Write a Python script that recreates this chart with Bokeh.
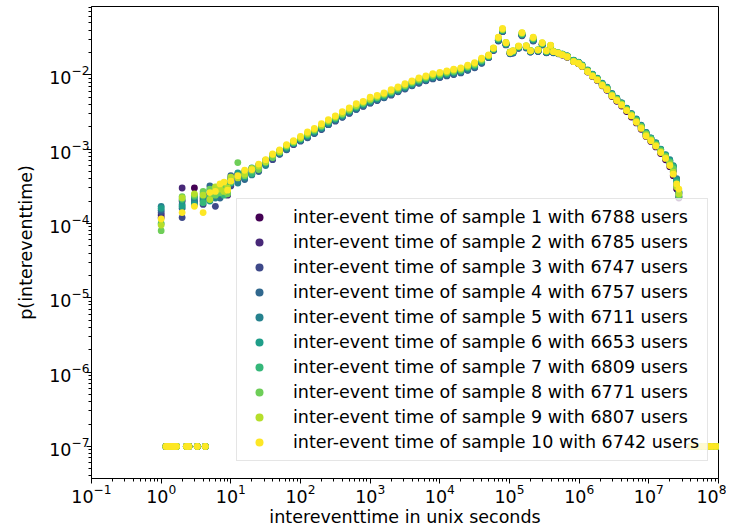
from bokeh.plotting import figure
from bokeh.models import ColumnDataSource, Legend, LegendItem, FixedTicker
from bokeh.embed import file_html
from bokeh.resources import INLINE

# ---------------- data ----------------
x_grid = [1, 2, 3, 4, 5, 6, 7, 8, 9,
          10, 12.6, 15.8, 20, 25.1, 31.6, 39.8, 50.1, 63.1, 79.4, 100,
          126, 158, 200, 251, 316, 398, 501, 631, 794, 1000,
          1260, 1580, 2000, 2510, 3160, 3980, 5010, 6310, 7940, 10000,
          12600, 15800, 20000, 25100, 31600, 39800,
          50100, 58900, 69200, 79400, 89100, 102000, 112000, 135000, 151000, 174000,
          200000, 219000, 257000, 295000, 339000, 389000, 427000, 501000, 575000, 676000,
          832000, 977000, 1.10e6, 1.32e6, 1.55e6, 1.82e6, 2.14e6, 2.51e6, 2.95e6, 3.47e6,
          4.07e6, 4.79e6, 5.62e6, 6.61e6, 7.76e6, 9.12e6, 1.07e7, 1.26e7, 1.48e7, 1.74e7,
          2.00e7, 2.24e7, 2.51e7, 2.70e7]

# points drawn at the floor value 1e-7
x_floor = [1.17, 1.25, 1.33, 1.42, 1.5, 1.58, 1.66, 2.3, 2.5, 3.3, 4.3,
           4.0e7, 4.6e7, 5.3e7, 6.1e7, 7.0e7, 8.0e7, 9.2e7, 1.05e8]
floor_value = 1e-7

s1 = [1.3e-4, 2.0e-4, 3.0e-4, 2.0e-4, 2.4e-4, 2.5e-4, 3.0e-4, 2.7e-4, 2.9e-4,
      3.4e-4, 4.6e-4, 4.1e-4, 5.4e-4, 5.2e-4, 6.9e-4, 7.4e-4, 9.5e-4, 1.0e-3, 1.25e-3, 1.3e-3,
      1.47e-3, 1.66e-3, 1.95e-3, 2.15e-3, 2.47e-3, 2.8e-3, 3.1e-3, 3.5e-3, 3.95e-3, 4.25e-3,
      4.7e-3, 5.0e-3, 5.55e-3, 6.05e-3, 6.7e-3, 7.3e-3, 8.0e-3, 8.5e-3, 9.15e-3, 9.5e-3,
      1.0e-2, 1.04e-2, 1.09e-2, 1.19e-2, 1.28e-2, 1.47e-2,
      1.74e-2, 2.16e-2, 2.92e-2, 3.85e-2, 2.56e-2, 1.95e-2, 1.99e-2, 2.31e-2, 3.4e-2, 2.33e-2,
      2.05e-2, 2.9e-2, 2.09e-2, 2.55e-2, 2.0e-2, 2.38e-2, 2.0e-2, 1.93e-2, 1.84e-2, 1.72e-2,
      1.5e-2, 1.41e-2, 1.29e-2, 1.09e-2, 9.5e-3, 8.4e-3, 7.1e-3, 6.2e-3, 5.1e-3, 4.4e-3,
      3.8e-3, 3.2e-3, 2.7e-3, 2.25e-3, 1.85e-3, 1.48e-3, 1.27e-3, 1.07e-3, 8.7e-4, 7.2e-4,
      5.8e-4, 4.4e-4, 2.9e-4, 2.2e-4]

s2 = [1.2e-4, 3.0e-4, 2.0e-4, 2.2e-4, 2.2e-4, 2.8e-4, 2.6e-4, 3.2e-4, 2.4e-4,
      4.1e-4, 3.8e-4, 4.9e-4, 4.6e-4, 6.1e-4, 6.2e-4, 8.3e-4, 8.6e-4, 1.1e-3, 1.15e-3, 1.4e-3,
      1.46e-3, 1.68e-3, 1.86e-3, 2.18e-3, 2.42e-3, 2.75e-3, 3.08e-3, 3.5e-3, 3.83e-3, 4.25e-3,
      4.58e-3, 5.0e-3, 5.42e-3, 6.05e-3, 6.55e-3, 7.25e-3, 7.88e-3, 8.48e-3, 9.0e-3, 9.42e-3,
      9.85e-3, 1.03e-2, 1.08e-2, 1.18e-2, 1.27e-2, 1.46e-2,
      1.72e-2, 2.14e-2, 2.9e-2, 3.82e-2, 2.54e-2, 1.93e-2, 1.97e-2, 2.29e-2, 3.38e-2, 2.31e-2,
      2.03e-2, 2.88e-2, 2.07e-2, 2.53e-2, 1.99e-2, 2.37e-2, 1.99e-2, 1.92e-2, 1.85e-2, 1.74e-2,
      1.52e-2, 1.43e-2, 1.31e-2, 1.11e-2, 9.7e-3, 8.6e-3, 7.3e-3, 6.3e-3, 5.25e-3, 4.55e-3,
      3.95e-3, 3.3e-3, 2.8e-3, 2.35e-3, 1.92e-3, 1.55e-3, 1.3e-3, 1.1e-3, 9.0e-4, 7.4e-4,
      6.2e-4, 5.0e-4, 3.2e-4, 2.3e-4]

s3 = [1.4e-4, 1.2e-4, 1.9e-4, 1.8e-4, 2.5e-4, 1.7e-4, 2.4e-4, 2.6e-4, 3.0e-4,
      3.2e-4, 4.0e-4, 4.3e-4, 4.8e-4, 5.4e-4, 6.4e-4, 7.2e-4, 8.8e-4, 9.8e-4, 1.15e-3, 1.28e-3,
      1.42e-3, 1.62e-3, 1.83e-3, 2.13e-3, 2.38e-3, 2.68e-3, 3.02e-3, 3.42e-3, 3.75e-3, 4.15e-3,
      4.5e-3, 4.9e-3, 5.32e-3, 5.9e-3, 6.42e-3, 7.1e-3, 7.7e-3, 8.3e-3, 8.8e-3, 9.2e-3,
      9.65e-3, 1.01e-2, 1.06e-2, 1.15e-2, 1.24e-2, 1.43e-2,
      1.7e-2, 2.12e-2, 2.85e-2, 3.8e-2, 2.52e-2, 1.92e-2, 1.96e-2, 2.28e-2, 3.35e-2, 2.3e-2,
      2.02e-2, 2.85e-2, 2.06e-2, 2.52e-2, 1.98e-2, 2.36e-2, 1.98e-2, 1.93e-2, 1.86e-2, 1.76e-2,
      1.54e-2, 1.45e-2, 1.33e-2, 1.13e-2, 9.9e-3, 8.7e-3, 7.4e-3, 6.5e-3, 5.4e-3, 4.7e-3,
      4.05e-3, 3.4e-3, 2.9e-3, 2.4e-3, 2.0e-3, 1.6e-3, 1.35e-3, 1.15e-3, 9.4e-4, 7.8e-4,
      6.5e-4, 5.2e-4, 3.5e-4, 2.5e-4]

s4 = [1.5e-4, 1.6e-4, 2.2e-4, 2.5e-4, 3.2e-4, 2.9e-4, 2.2e-4, 3.0e-4, 2.5e-4,
      4.4e-4, 4.5e-4, 3.9e-4, 5.2e-4, 5.0e-4, 7.0e-4, 7.6e-4, 8.5e-4, 1.05e-3, 1.18e-3, 1.3e-3,
      1.44e-3, 1.63e-3, 1.87e-3, 2.13e-3, 2.43e-3, 2.7e-3, 3.08e-3, 3.43e-3, 3.82e-3, 4.18e-3,
      4.57e-3, 4.92e-3, 5.4e-3, 5.94e-3, 6.52e-3, 7.15e-3, 7.82e-3, 8.36e-3, 8.94e-3, 9.3e-3,
      9.78e-3, 1.02e-2, 1.07e-2, 1.16e-2, 1.26e-2, 1.44e-2,
      1.72e-2, 2.15e-2, 2.9e-2, 3.85e-2, 2.55e-2, 1.94e-2, 1.98e-2, 2.3e-2, 3.4e-2, 2.33e-2,
      2.04e-2, 2.9e-2, 2.08e-2, 2.55e-2, 2.0e-2, 2.38e-2, 2.0e-2, 1.95e-2, 1.88e-2, 1.78e-2,
      1.56e-2, 1.47e-2, 1.35e-2, 1.15e-2, 1.01e-2, 8.9e-3, 7.6e-3, 6.7e-3, 5.55e-3, 4.8e-3,
      4.2e-3, 3.5e-3, 3.0e-3, 2.5e-3, 2.05e-3, 1.66e-3, 1.4e-3, 1.2e-3, 9.8e-4, 8.2e-4,
      7.0e-4, 5.8e-4, 3.9e-4, 2.6e-4]

s5 = [1.7e-4, 1.8e-4, 2.0e-4, 2.1e-4, 2.8e-4, 2.2e-4, 3.3e-4, 2.6e-4, 3.2e-4,
      3.6e-4, 3.5e-4, 4.8e-4, 4.5e-4, 6.0e-4, 6.0e-4, 8.0e-4, 9.2e-4, 1.0e-3, 1.2e-3, 1.33e-3,
      1.49e-3, 1.69e-3, 1.91e-3, 2.22e-3, 2.49e-3, 2.79e-3, 3.16e-3, 3.56e-3, 3.93e-3, 4.33e-3,
      4.69e-3, 5.1e-3, 5.56e-3, 6.15e-3, 6.71e-3, 7.4e-3, 8.05e-3, 8.65e-3, 9.2e-3, 9.6e-3,
      1.01e-2, 1.06e-2, 1.1e-2, 1.2e-2, 1.3e-2, 1.49e-2,
      1.74e-2, 2.18e-2, 2.95e-2, 3.9e-2, 2.58e-2, 1.96e-2, 2.0e-2, 2.32e-2, 3.45e-2, 2.35e-2,
      2.06e-2, 2.95e-2, 2.1e-2, 2.57e-2, 2.02e-2, 2.4e-2, 2.02e-2, 1.96e-2, 1.9e-2, 1.8e-2,
      1.57e-2, 1.48e-2, 1.36e-2, 1.16e-2, 1.02e-2, 9.0e-3, 7.7e-3, 6.8e-3, 5.6e-3, 4.85e-3,
      4.2e-3, 3.55e-3, 3.0e-3, 2.55e-3, 2.1e-3, 1.68e-3, 1.42e-3, 1.22e-3, 1.0e-3, 8.4e-4,
      7.2e-4, 6.0e-4, 4.0e-4, 2.7e-4]

s6 = [1.6e-4, 1.7e-4, 1.8e-4, 2.3e-4, 2.0e-4, 3.0e-4, 2.5e-4, 2.8e-4, 2.7e-4,
      4.0e-4, 4.8e-4, 4.2e-4, 5.6e-4, 5.5e-4, 6.8e-4, 7.9e-4, 8.9e-4, 1.08e-3, 1.2e-3, 1.36e-3,
      1.52e-3, 1.72e-3, 1.97e-3, 2.25e-3, 2.56e-3, 2.83e-3, 3.24e-3, 3.62e-3, 4.03e-3, 4.4e-3,
      4.81e-3, 5.18e-3, 5.69e-3, 6.26e-3, 6.87e-3, 7.54e-3, 8.24e-3, 8.81e-3, 9.42e-3, 9.8e-3,
      1.03e-2, 1.08e-2, 1.13e-2, 1.23e-2, 1.32e-2, 1.52e-2,
      1.76e-2, 2.2e-2, 3.0e-2, 3.95e-2, 2.6e-2, 1.98e-2, 2.02e-2, 2.35e-2, 3.5e-2, 2.38e-2,
      2.08e-2, 3.0e-2, 2.12e-2, 2.6e-2, 2.04e-2, 2.42e-2, 2.03e-2, 1.97e-2, 1.89e-2, 1.79e-2,
      1.56e-2, 1.47e-2, 1.35e-2, 1.15e-2, 1.01e-2, 8.9e-3, 7.6e-3, 6.7e-3, 5.5e-3, 4.8e-3,
      4.15e-3, 3.5e-3, 2.95e-3, 2.5e-3, 2.05e-3, 1.65e-3, 1.4e-3, 1.2e-3, 9.9e-4, 8.3e-4,
      7.0e-4, 5.9e-4, 3.8e-4, 2.6e-4]

s7 = [1.0e-4, 2.1e-4, 2.3e-4, 1.9e-4, 2.3e-4, 2.6e-4, 2.8e-4, 2.4e-4, 3.3e-4,
      3.5e-4, 4.3e-4, 5.0e-4, 4.7e-4, 5.8e-4, 6.5e-4, 8.1e-4, 9.4e-4, 1.06e-3, 1.22e-3, 1.37e-3,
      1.55e-3, 1.76e-3, 2.0e-3, 2.31e-3, 2.6e-3, 2.9e-3, 3.3e-3, 3.7e-3, 4.1e-3, 4.5e-3,
      4.9e-3, 5.3e-3, 5.8e-3, 6.4e-3, 7.0e-3, 7.7e-3, 8.4e-3, 9.0e-3, 9.6e-3, 1.0e-2,
      1.05e-2, 1.1e-2, 1.15e-2, 1.25e-2, 1.35e-2, 1.55e-2,
      1.78e-2, 2.22e-2, 3.05e-2, 4.0e-2, 2.65e-2, 2.0e-2, 2.05e-2, 2.38e-2, 3.55e-2, 2.4e-2,
      2.1e-2, 3.05e-2, 2.15e-2, 2.62e-2, 2.06e-2, 2.44e-2, 2.05e-2, 1.98e-2, 1.9e-2, 1.78e-2,
      1.55e-2, 1.46e-2, 1.34e-2, 1.14e-2, 1.0e-2, 8.8e-3, 7.5e-3, 6.6e-3, 5.4e-3, 4.7e-3,
      4.1e-3, 3.45e-3, 2.9e-3, 2.45e-3, 2.0e-3, 1.62e-3, 1.38e-3, 1.17e-3, 9.7e-4, 8.1e-4,
      6.8e-4, 5.7e-4, 3.6e-4, 2.3e-4]

s8 = [8.0e-5, 2.3e-4, 2.4e-4, 2.7e-4, 2.9e-4, 2.4e-4, 2.6e-4, 3.1e-4, 2.5e-4,
      3.9e-4, 6.6e-4, 4.4e-4, 5.1e-4, 5.3e-4, 7.1e-4, 7.7e-4, 9.1e-4, 1.1e-3, 1.24e-3, 1.4e-3,
      1.58e-3, 1.8e-3, 2.04e-3, 2.36e-3, 2.64e-3, 2.97e-3, 3.36e-3, 3.78e-3, 4.17e-3, 4.6e-3,
      4.99e-3, 5.42e-3, 5.91e-3, 6.54e-3, 7.13e-3, 7.86e-3, 8.56e-3, 9.19e-3, 9.78e-3, 1.02e-2,
      1.07e-2, 1.12e-2, 1.17e-2, 1.28e-2, 1.38e-2, 1.58e-2,
      1.8e-2, 2.25e-2, 3.1e-2, 4.05e-2, 2.68e-2, 2.03e-2, 2.08e-2, 2.4e-2, 3.6e-2, 2.43e-2,
      2.13e-2, 3.1e-2, 2.18e-2, 2.65e-2, 2.08e-2, 2.46e-2, 2.08e-2, 1.96e-2, 1.88e-2, 1.77e-2,
      1.53e-2, 1.44e-2, 1.33e-2, 1.13e-2, 9.8e-3, 8.7e-3, 7.4e-3, 6.5e-3, 5.35e-3, 4.65e-3,
      4.05e-3, 3.4e-3, 2.9e-3, 2.4e-3, 2.0e-3, 1.6e-3, 1.36e-3, 1.15e-3, 9.5e-4, 8.0e-4,
      6.6e-4, 5.4e-4, 3.3e-4, 2.4e-4]

s9 = [9.5e-5, 2.2e-4, 2.5e-4, 2.4e-4, 2.1e-4, 3.1e-4, 2.9e-4, 2.7e-4, 3.0e-4,
      4.2e-4, 4.1e-4, 4.6e-4, 5.5e-4, 5.9e-4, 6.7e-4, 8.4e-4, 9.3e-4, 1.12e-3, 1.26e-3, 1.42e-3,
      1.63e-3, 1.84e-3, 2.1e-3, 2.42e-3, 2.73e-3, 3.05e-3, 3.47e-3, 3.89e-3, 4.3e-3, 4.73e-3,
      5.15e-3, 5.57e-3, 6.09e-3, 6.72e-3, 7.35e-3, 8.09e-3, 8.82e-3, 9.45e-3, 1.01e-2, 1.05e-2,
      1.1e-2, 1.16e-2, 1.21e-2, 1.31e-2, 1.42e-2, 1.63e-2,
      1.82e-2, 2.28e-2, 3.15e-2, 4.1e-2, 2.72e-2, 2.02e-2, 2.12e-2, 2.42e-2, 3.65e-2, 2.47e-2,
      2.12e-2, 3.15e-2, 2.17e-2, 2.68e-2, 2.12e-2, 2.48e-2, 2.07e-2, 1.97e-2, 1.87e-2, 1.73e-2,
      1.52e-2, 1.43e-2, 1.31e-2, 1.12e-2, 9.7e-3, 8.6e-3, 7.3e-3, 6.4e-3, 5.3e-3, 4.6e-3,
      4.0e-3, 3.35e-3, 2.85e-3, 2.35e-3, 1.95e-3, 1.55e-3, 1.32e-3, 1.12e-3, 9.2e-4, 7.7e-4,
      6.2e-4, 4.9e-4, 3.1e-4, 2.5e-4]

s10 = [1.15e-4, 1.4e-4, 1.7e-4, 1.4e-4, 2.6e-4, 2.7e-4, 3.4e-4, 3.6e-4, 2.8e-4,
       3.7e-4, 4.4e-4, 5.2e-4, 5.3e-4, 6.3e-4, 7.2e-4, 8.6e-4, 9.8e-4, 1.15e-3, 1.3e-3, 1.48e-3,
       1.7e-3, 1.9e-3, 2.2e-3, 2.5e-3, 2.8e-3, 3.2e-3, 3.6e-3, 4.1e-3, 4.4e-3, 5.0e-3,
       5.3e-3, 5.7e-3, 6.3e-3, 6.9e-3, 7.6e-3, 8.3e-3, 9.1e-3, 9.7e-3, 1.04e-2, 1.08e-2,
       1.13e-2, 1.19e-2, 1.24e-2, 1.35e-2, 1.46e-2, 1.67e-2,
       1.85e-2, 2.3e-2, 3.2e-2, 4.2e-2, 2.7e-2, 2.0e-2, 2.1e-2, 2.45e-2, 3.7e-2, 2.45e-2,
       2.1e-2, 3.2e-2, 2.15e-2, 2.7e-2, 2.1e-2, 2.5e-2, 2.05e-2, 1.95e-2, 1.85e-2, 1.75e-2,
       1.5e-2, 1.42e-2, 1.3e-2, 1.1e-2, 9.6e-3, 8.5e-3, 7.2e-3, 6.3e-3, 5.2e-3, 4.5e-3,
       3.9e-3, 3.3e-3, 2.8e-3, 2.3e-3, 1.9e-3, 1.5e-3, 1.3e-3, 1.1e-3, 9.0e-4, 7.5e-4,
       6.0e-4, 4.6e-4, 3.4e-4, 2.9e-4]

series = [s1, s2, s3, s4, s5, s6, s7, s8, s9, s10]
sample_ids = [1, 2, 3, 4, 5, 6, 7, 8, 9, 10]
user_counts = [6788, 6785, 6747, 6757, 6711, 6653, 6809, 6771, 6807, 6742]
colors = ["#440154", "#482878", "#3e4989", "#31688e", "#26828e",
          "#1f9e89", "#35b779", "#6ece58", "#b5de2b", "#fde725"]

x_major_exponents = [-1, 0, 1, 2, 3, 4, 5, 6, 7, 8]
y_major_exponents = [-8, -7, -6, -5, -4, -3, -2, -1]

# ---------------- figure ----------------
FONT = "DejaVu Sans"
p = figure(width=726, height=529, x_axis_type="log", y_axis_type="log",
           x_range=(1e-1, 1e8), y_range=(3.7e-8, 8.3e-2),
           output_backend="svg", toolbar_location=None,
           min_border_left=91, min_border_right=8, min_border_top=6, min_border_bottom=10)

p.outline_line_color = "black"
p.outline_line_alpha = 1.0
p.outline_line_width = 1
p.xgrid.visible = False
p.ygrid.visible = False

p.xaxis.ticker = FixedTicker(ticks=[10.0 ** e for e in x_major_exponents],
                             minor_ticks=[m * 10.0 ** e for e in range(-2, 9) for m in range(2, 10)])
p.yaxis.ticker = FixedTicker(ticks=[10.0 ** e for e in y_major_exponents],
                             minor_ticks=[m * 10.0 ** e for e in range(-9, 0) for m in range(2, 10)])

for ax in (p.xaxis, p.yaxis):
    ax.axis_line_color = "black"
    ax.major_tick_line_color = "black"
    ax.minor_tick_line_color = "black"
    ax.major_tick_in = 0
    ax.major_tick_out = 5
    ax.minor_tick_in = 0
    ax.minor_tick_out = 3
    ax.major_label_text_font = FONT
    ax.major_label_text_font_size = "17.5px"
    ax.major_label_text_color = "black"
    ax.axis_label_text_font = FONT
    ax.axis_label_text_font_size = "17.5px"
    ax.axis_label_text_font_style = "normal"
    ax.axis_label_text_color = "black"

p.xaxis.major_label_standoff = 0
p.xaxis.axis_label_standoff = 1
p.yaxis.major_label_standoff = -3
p.yaxis.axis_label_standoff = 10

p.xaxis.axis_label = "intereventtime in unix seconds"
p.yaxis.axis_label = "p(intereventtime)"

items = []
for sid, n, ys, c in zip(sample_ids, user_counts, series, colors):
    src = ColumnDataSource(data=dict(x=x_grid + x_floor,
                                     y=ys + [floor_value] * len(x_floor)))
    r = p.scatter("x", "y", source=src, size=6.8, fill_color=c, line_color=None)
    items.append(LegendItem(label=f"inter-event time of sample {sid} with {n} users",
                            renderers=[r]))

legend = Legend(items=items, location=(145, 17))
legend.label_text_font = FONT
legend.label_text_font_size = "17.5px"
legend.label_text_color = "black"
legend.background_fill_color = "white"
legend.background_fill_alpha = 0.8
legend.border_line_color = "#cccccc"
legend.border_line_width = 1
legend.padding = 8
legend.spacing = 5
legend.glyph_width = 28
legend.glyph_height = 20
legend.label_height = 20
legend.label_standoff = 20
legend.margin = 0
p.add_layout(legend)

open("out.html", "w").write(file_html(p, INLINE))
